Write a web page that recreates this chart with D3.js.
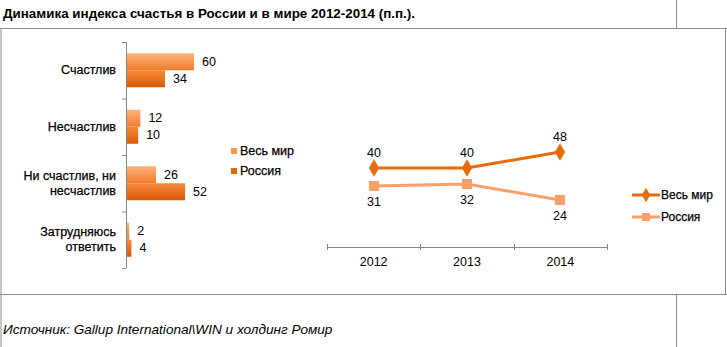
<!DOCTYPE html>
<html>
<head>
<meta charset="utf-8">
<script src="https://cdn.jsdelivr.net/npm/d3@7"></script>
<style>
  body { margin: 0; background: #fff; }
  svg text { font-family: "Liberation Sans", Arial, sans-serif; fill: #000; }
</style>
</head>
<body>
<div id="canvas"></div>
<script>
// bar chart data
const categories = ["Счастлив", "Несчастлив", "Ни счастлив, ни несчастлив", "Затрудняюсь ответить"];
const catLines = [["Счастлив"], ["Несчастлив"], ["Ни счастлив, ни", "несчастлив"], ["Затрудняюсь", "ответить"]];
const barSeries = ["Весь мир", "Россия"];
const worldBars = [60, 12, 26, 2];
const russiaBars = [34, 10, 52, 4];

// line chart data
const years = ["2012", "2013", "2014"];
const lineSeries = ["Весь мир", "Россия"];
const worldLine = [40, 40, 48];
const russiaLine = [31, 32, 24];

const width = 727, height = 347;
const svg = d3.select("#canvas").append("svg")
  .attr("width", width).attr("height", height);

const defs = svg.append("defs");
function grad(id, c1, c2) {
  const g = defs.append("linearGradient").attr("id", id)
    .attr("x1", 0).attr("y1", 0).attr("x2", 0).attr("y2", 1);
  g.append("stop").attr("offset", "0%").attr("stop-color", c1);
  g.append("stop").attr("offset", "100%").attr("stop-color", c2);
}
grad("gWorld", "#fcb47c", "#f07b2c");
grad("gRussia", "#f8893a", "#d85a06");

// table frame
const border = "#8c8c8c";
svg.append("line").attr("x1", 0).attr("x2", 727).attr("y1", 28.5).attr("y2", 28.5).attr("stroke", border);
svg.append("line").attr("x1", 0).attr("x2", 727).attr("y1", 294.5).attr("y2", 294.5).attr("stroke", border);
svg.append("line").attr("x1", 676.5).attr("x2", 676.5).attr("y1", 0).attr("y2", 28.5).attr("stroke", border);
svg.append("line").attr("x1", 676.5).attr("x2", 676.5).attr("y1", 294.5).attr("y2", 347).attr("stroke", border);
svg.append("line").attr("x1", 725.5).attr("x2", 725.5).attr("y1", 28.5).attr("y2", 294.5).attr("stroke", border);
svg.append("line").attr("x1", 1).attr("x2", 1).attr("y1", 28.5).attr("y2", 347).attr("stroke", border);

svg.append("text").attr("x", 3).attr("y", 18)
  .style("font-size", "13.4px").style("font-weight", "bold")
  .text("Динамика индекса счастья в России и в мире 2012-2014 (п.п.).");

svg.append("text").attr("x", 3).attr("y", 334)
  .style("font-size", "13.6px").style("font-style", "italic")
  .text("Источник: Gallup International\\WIN и холдинг Ромир");

// ---- bar chart ----
const bx0 = 126;
const yb = d3.scaleBand().domain(categories).range([42, 268]);
const xb = d3.scaleLinear().domain([0, 60]).range([0, 67]);
const barH = 17;

const gb = svg.append("g");
gb.append("line").attr("x1", bx0 + 0.5).attr("x2", bx0 + 0.5).attr("y1", 42).attr("y2", 268)
  .attr("stroke", "#888");
const tickYs = [42].concat(categories.map(c => yb(c) + yb.bandwidth()));
gb.selectAll(".tk").data(tickYs).enter().append("line")
  .attr("x1", bx0 - 4).attr("x2", bx0).attr("y1", d => d + 0.5).attr("y2", d => d + 0.5)
  .attr("stroke", "#888");

categories.forEach((c, i) => {
  const cy = yb(c) + yb.bandwidth() / 2;
  const lines = catLines[i];
  lines.forEach((ln, j) => {
    gb.append("text").attr("x", 116).attr("y", cy + 4 + (j - (lines.length - 1) / 2) * 15)
      .attr("text-anchor", "end").style("font-size", "12.5px")
      .style("stroke", "#000").style("stroke-width", "0.25px").text(ln);
  });
  const vals = [worldBars[i], russiaBars[i]];
  vals.forEach((v, k) => {
    const y0 = cy - barH + k * barH;
    gb.append("rect").attr("x", bx0 + 1).attr("y", y0)
      .attr("width", Math.max(xb(v), 2)).attr("height", barH)
      .attr("fill", k === 0 ? "url(#gWorld)" : "url(#gRussia)");
    gb.append("text").attr("x", bx0 + 1 + xb(v) + 8).attr("y", y0 + barH / 2 + 4)
      .style("font-size", "12.5px").text(v);
  });
});

// bar legend
barSeries.forEach((s, i) => {
  svg.append("rect").attr("x", 231).attr("y", 148 + i * 20).attr("width", 6).attr("height", 6)
    .attr("fill", i === 0 ? "#f6964a" : "#e0650e");
  svg.append("text").attr("x", 240).attr("y", 155 + i * 20)
    .style("font-size", "12.5px").style("stroke", "#000").style("stroke-width", "0.25px").text(s);
});

// ---- line chart ----
const xl = d3.scalePoint().domain(years).range([374, 560]);
const yl = d3.scaleLinear().domain([0, 60]).range([248, 128]);
const gl = svg.append("g");

const axis = gl.append("g").attr("transform", "translate(0,247)")
  .call(d3.axisBottom(d3.scaleBand().domain(years).range([327, 607])).tickSize(0).tickPadding(10));
axis.select(".domain").attr("stroke", "#888");
axis.selectAll("text").style("font-size", "12.5px").style("font-family", "Liberation Sans, Arial, sans-serif");
[327, 420, 514, 607].forEach(x => {
  gl.append("line").attr("x1", x + 0.5).attr("x2", x + 0.5).attr("y1", 244).attr("y2", 250).attr("stroke", "#888");
});

const line = d3.line().x((d, i) => xl(years[i])).y(d => yl(d));
const colWorld = "#e46c0a", colRussia = "#f9a06a";

gl.append("path").datum(russiaLine).attr("d", line)
  .attr("fill", "none").attr("stroke", colRussia).attr("stroke-width", 3);
gl.append("path").datum(worldLine).attr("d", line)
  .attr("fill", "none").attr("stroke", colWorld).attr("stroke-width", 3);

gl.selectAll(".sq").data(russiaLine).enter().append("rect")
  .attr("x", (d, i) => xl(years[i]) - 5).attr("y", d => yl(d) - 5)
  .attr("width", 10).attr("height", 10).attr("fill", colRussia);
gl.selectAll(".dm").data(worldLine).enter().append("path")
  .attr("d", d3.symbol(d3.symbolDiamond, 90))
  .attr("transform", (d, i) => `translate(${xl(years[i])},${yl(d)})`)
  .attr("fill", colWorld);

gl.selectAll(".lw").data(worldLine).enter().append("text")
  .attr("x", (d, i) => xl(years[i])).attr("y", d => yl(d) - 11)
  .attr("text-anchor", "middle").style("font-size", "12.5px").text(d => d);
gl.selectAll(".lr").data(russiaLine).enter().append("text")
  .attr("x", (d, i) => xl(years[i])).attr("y", d => yl(d) + 20)
  .attr("text-anchor", "middle").style("font-size", "12.5px").text(d => d);

// line legend
lineSeries.forEach((s, i) => {
  const ly = 195 + i * 22;
  const c = i === 0 ? colWorld : colRussia;
  svg.append("line").attr("x1", 632).attr("x2", 660).attr("y1", ly).attr("y2", ly)
    .attr("stroke", c).attr("stroke-width", 3);
  if (i === 0) {
    svg.append("path").attr("d", d3.symbol(d3.symbolDiamond, 60))
      .attr("transform", `translate(646,${ly})`).attr("fill", c);
  } else {
    svg.append("rect").attr("x", 642).attr("y", ly - 4).attr("width", 8).attr("height", 8).attr("fill", c);
  }
  svg.append("text").attr("x", 661).attr("y", ly + 4).style("font-size", "12px")
    .style("stroke", "#000").style("stroke-width", "0.25px").text(s);
});
</script>
</body>
</html>
